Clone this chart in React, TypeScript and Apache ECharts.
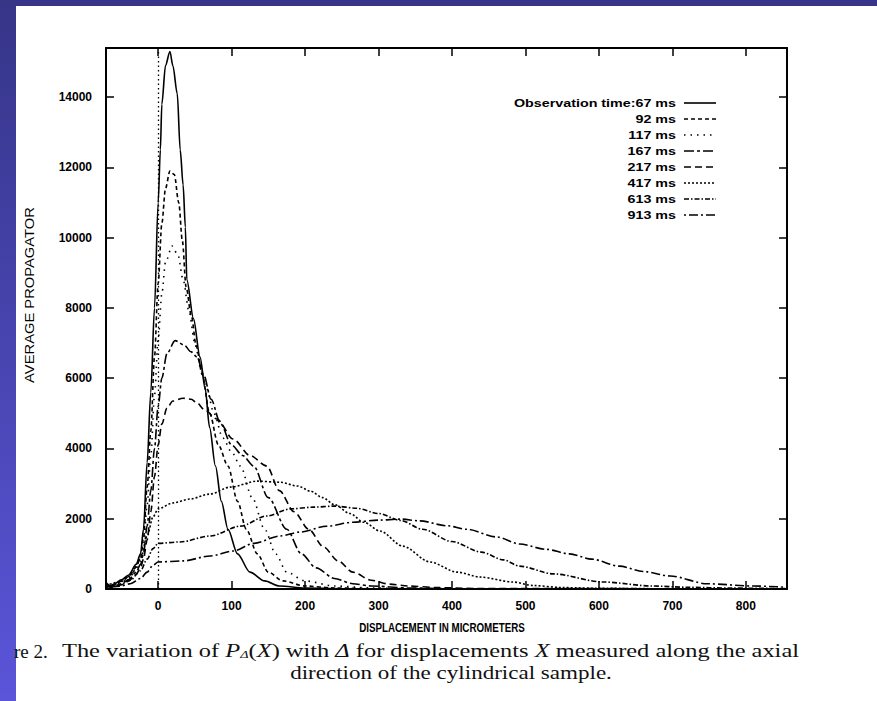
import React, { useEffect, useRef } from "react";
import * as echarts from "echarts";

// Average propagator P_Δ(X) versus displacement (micrometres), one curve per observation time.
const t67: number[][] = [
  [-71, 180], [-65, 90], [-60, 140], [-50, 260], [-40, 400], [-30, 700], [-24, 1000], [-20, 1700],
  [-15, 3600], [-10, 5600], [-5, 8000], [0, 11000], [3, 12500], [5, 13800], [10, 14900], [16, 15300],
  [20, 14900], [26, 14100], [30, 12500], [34, 11500], [37, 10300], [39, 8800], [48, 7700], [57, 6600],
  [64, 5700], [70, 4600], [78, 3500], [86, 2500], [95, 1700], [108, 1000], [125, 480], [145, 230],
  [165, 85], [200, 30], [250, 8], [300, 0], [856, 0],
];
const t92: number[][] = [
  [-71, 150], [-65, 80], [-60, 110], [-50, 220], [-40, 360], [-30, 620], [-24, 900], [-20, 1450],
  [-15, 2900], [-10, 4500], [-5, 6600], [0, 8700], [5, 10400], [10, 11400], [16, 11900], [22, 11800],
  [28, 11000], [33, 9900], [38, 8600], [45, 7800], [52, 6900], [60, 6100], [70, 5000], [82, 4100],
  [95, 3500], [108, 2500], [120, 1700], [135, 1000], [150, 480], [170, 230], [200, 85], [240, 30],
  [300, 5], [856, 0],
];
const t117: number[][] = [
  [-71, 130], [-65, 70], [-60, 90], [-50, 180], [-40, 320], [-30, 560], [-24, 800], [-20, 1250],
  [-15, 2400], [-10, 3800], [-5, 5500], [0, 7100], [5, 8400], [10, 9300], [19, 9760], [27, 9500],
  [34, 8800], [42, 7900], [50, 7000], [58, 6300], [66, 5700], [76, 5000], [88, 4300], [100, 3900],
  [112, 3500], [128, 2600], [145, 1700], [160, 1000], [175, 480], [200, 230], [240, 85], [290, 30],
  [350, 5], [856, 0],
];
const t167: number[][] = [
  [-71, 110], [-65, 60], [-60, 80], [-50, 150], [-40, 270], [-30, 480], [-24, 700], [-20, 1000],
  [-15, 1800], [-10, 2800], [-5, 4000], [0, 5200], [5, 6000], [12, 6700], [23, 7070], [35, 6950],
  [45, 6750], [53, 6600], [62, 6100], [72, 5400], [85, 4700], [100, 4100], [115, 3800], [130, 3500],
  [150, 2600], [175, 1700], [195, 1000], [215, 600], [240, 300], [265, 150], [290, 85], [340, 30],
  [400, 8], [856, 0],
];
const t217: number[][] = [
  [-71, 90], [-65, 50], [-60, 70], [-50, 120], [-40, 230], [-30, 420], [-24, 600], [-20, 850],
  [-15, 1400], [-10, 2200], [-5, 3200], [0, 4100], [5, 4700], [12, 5150], [20, 5350], [34, 5430],
  [45, 5400], [53, 5300], [62, 5120], [80, 4840], [102, 4270], [125, 3800], [148, 3500], [165, 2800],
  [185, 2200], [205, 1700], [225, 1200], [245, 800], [265, 480], [290, 250], [315, 140], [340, 85],
  [380, 40], [430, 15], [856, 0],
];
const t417: number[][] = [
  [-71, 100], [-52, 200], [-38, 370], [-24, 850], [-15, 1500], [-7, 2050], [0, 2280], [20, 2450],
  [43, 2560], [70, 2700], [98, 2900], [135, 3070], [166, 3040], [190, 2930], [207, 2790], [224, 2600],
  [240, 2400], [261, 2150], [280, 1900], [302, 1650], [333, 1220], [370, 770], [407, 480], [438, 340],
  [483, 200], [510, 100], [550, 40], [600, 20], [700, 5], [856, 0],
];
const t613: number[][] = [
  [-71, 60], [-52, 120], [-38, 250], [-24, 520], [-15, 850], [-7, 1150], [0, 1300], [30, 1340],
  [71, 1510], [112, 1790], [148, 2080], [180, 2280], [211, 2330], [240, 2360], [270, 2300], [300, 2150],
  [330, 1950], [360, 1700], [400, 1350], [440, 1050], [470, 830], [492, 650], [538, 430], [605, 200],
  [673, 85], [720, 50], [780, 25], [856, 10],
];
const t913: number[][] = [
  [-71, 40], [-52, 80], [-38, 150], [-24, 300], [-15, 480], [-7, 680], [0, 770], [34, 800],
  [71, 940], [102, 1080], [130, 1300], [166, 1510], [193, 1620], [230, 1790], [265, 1900], [300, 1960],
  [330, 1990], [356, 1940], [393, 1800], [420, 1700], [461, 1480], [492, 1280], [528, 1130], [560, 1000],
  [590, 850], [628, 650], [660, 500], [697, 370], [747, 150], [810, 85], [856, 50],
];

const curves = [t67, t92, t117, t167, t217, t417, t613, t913];
const seriesNames = [
  "Observation time:67 ms", "92 ms", "117 ms", "167 ms", "217 ms", "417 ms", "613 ms", "913 ms",
];
const dashPatterns: (number[] | "solid")[] = [
  "solid", [4, 3], [1.5, 5], [10, 3, 3, 3], [7, 4], [2, 2], [5, 2, 1.5, 2], [2, 3, 9, 3],
];

const xTitle = "DISPLACEMENT IN MICROMETERS";
const yTitle = "AVERAGE PROPAGATOR";
const captionLead = "re 2.";
const captionLine1 = "The variation of {i|P}{s|Δ}({i|X}) with {i|Δ} for displacements {i|X} measured along the axial";
const captionLine1Plain = "The variation of PΔ(X) with Δ for displacements X measured along the axial";
const captionLine2 = "direction of the cylindrical sample.";

const SANS = "'Liberation Sans', Arial, sans-serif";
const SERIF = "'Liberation Serif', 'Times New Roman', serif";

function textWidth(text: string, font: string): number {
  const ctx = document.createElement("canvas").getContext("2d");
  if (!ctx) return text.length * 7;
  ctx.font = font;
  return ctx.measureText(text).width;
}

export default function App() {
  const ref = useRef<HTMLDivElement>(null);

  useEffect(() => {
    if (!ref.current) return;
    const chart = echarts.init(ref.current, undefined, { renderer: "svg" });

    const legendFont = `bold 11px ${SANS}`;
    const legendScale = 162 / textWidth(seriesNames[0], legendFont);
    const capFont = `19px ${SERIF}`;
    const cap1Scale = 750 / textWidth(captionLine1Plain, capFont);
    const cap2Scale = 322 / textWidth(captionLine2, capFont);
    const xTitleFont = `bold 12px ${SANS}`;
    const xTitleScale = 166 / textWidth(xTitle, xTitleFont);
    const yTitleFont = `13px ${SANS}`;
    const yTitleScale = 176 / textWidth(yTitle, yTitleFont);

    const legendGraphics: any[] = [];
    seriesNames.forEach((name, i) => {
      const y = 103 + i * 16;
      legendGraphics.push({
        type: "text",
        x: 676,
        y,
        scaleX: legendScale,
        style: {
          text: name,
          font: legendFont,
          fill: "#000",
          textAlign: "right",
          textVerticalAlign: "middle",
        },
      });
      const dash = dashPatterns[i];
      legendGraphics.push({
        type: "line",
        shape: { x1: 684, y1: y, x2: 716, y2: y },
        style: {
          stroke: "#000",
          lineWidth: 1.6,
          lineDash: dash === "solid" ? null : dash,
        },
      });
    });

    const axisLabelBase = {
      color: "#000",
      fontFamily: SANS,
      fontWeight: "bold" as const,
      formatter: (v: number) => String(v),
    };

    const option: any = {
      animation: false,
      backgroundColor: "#ffffff",
      grid: { left: 106, top: 48, right: 90, bottom: 112, containLabel: false },
      xAxis: [
        {
          type: "value",
          position: "bottom",
          min: -71,
          max: 856,
          splitNumber: 9,
          axisLine: { onZero: false, lineStyle: { color: "#000", width: 2 } },
          axisTick: { inside: true, length: 8, lineStyle: { color: "#000", width: 1.5 } },
          axisLabel: { ...axisLabelBase, fontSize: 12, margin: 11, showMinLabel: false, showMaxLabel: false },
          splitLine: { show: false },
        },
        {
          type: "value",
          position: "top",
          min: -71,
          max: 856,
          splitNumber: 9,
          axisLine: { onZero: false, lineStyle: { color: "#000", width: 2 } },
          axisTick: { inside: true, length: 8, lineStyle: { color: "#000", width: 1.5 } },
          axisLabel: { show: false },
          splitLine: { show: false },
        },
      ],
      yAxis: [
        {
          type: "value",
          position: "left",
          min: 0,
          max: 15400,
          interval: 2000,
          axisLine: { onZero: false, lineStyle: { color: "#000", width: 2 } },
          axisTick: { inside: true, length: 8, lineStyle: { color: "#000", width: 1.5 } },
          axisLabel: { ...axisLabelBase, fontSize: 12, margin: 14, showMaxLabel: false },
          splitLine: { show: false },
        },
        {
          type: "value",
          position: "right",
          min: 0,
          max: 15400,
          interval: 2000,
          axisLine: { onZero: false, lineStyle: { color: "#000", width: 2 } },
          axisTick: { inside: true, length: 8, lineStyle: { color: "#000", width: 1.5 } },
          axisLabel: { show: false },
          splitLine: { show: false },
        },
      ],
      series: curves.map((data, i) => ({
        name: seriesNames[i],
        type: "line",
        data,
        xAxisIndex: 0,
        yAxisIndex: 0,
        showSymbol: false,
        symbol: "none",
        smooth: 0.3,
        smoothMonotone: "x",
        clip: true,
        lineStyle: { color: "#000", width: 1.6, type: dashPatterns[i] },
        markLine:
          i === 0
            ? {
                silent: true,
                symbol: "none",
                label: { show: false },
                lineStyle: { color: "#000", width: 1.3, type: [1.5, 3] },
                data: [{ xAxis: 0 }],
              }
            : undefined,
      })),
      graphic: [
        // slide backdrop around the scanned figure
        {
          type: "rect",
          shape: { x: 0, y: 0, width: 16, height: 701 },
          style: {
            fill: new echarts.graphic.LinearGradient(0, 0, 0, 1, [
              { offset: 0, color: "#363588" },
              { offset: 1, color: "#5a55d9" },
            ]),
          },
        },
        {
          type: "rect",
          shape: { x: 0, y: 0, width: 877, height: 6 },
          style: { fill: "#363588" },
        },
        {
          type: "text",
          x: 29,
          y: 295,
          rotation: Math.PI / 2,
          scaleX: yTitleScale,
          style: {
            text: yTitle,
            font: yTitleFont,
            fill: "#000",
            textAlign: "center",
            textVerticalAlign: "middle",
          },
        },
        {
          type: "text",
          x: 442,
          y: 628,
          scaleX: xTitleScale,
          style: {
            text: xTitle,
            font: xTitleFont,
            fill: "#000",
            textAlign: "center",
            textVerticalAlign: "middle",
          },
        },
        ...legendGraphics,
        {
          type: "text",
          x: 14,
          y: 651,
          style: {
            text: captionLead,
            font: `19px ${SERIF}`,
            fill: "#111",
            textAlign: "left",
            textVerticalAlign: "middle",
          },
        },
        {
          type: "text",
          x: 62,
          y: 651,
          scaleX: cap1Scale,
          style: {
            text: captionLine1,
            font: capFont,
            fill: "#111",
            textAlign: "left",
            textVerticalAlign: "middle",
            rich: {
              i: { fontStyle: "italic", fontFamily: SERIF, fontSize: 19 },
              s: { fontStyle: "italic", fontFamily: SERIF, fontSize: 11, verticalAlign: "bottom", lineHeight: 14 },
            },
          },
        },
        {
          type: "text",
          x: 451,
          y: 673,
          scaleX: cap2Scale,
          style: {
            text: captionLine2,
            font: capFont,
            fill: "#111",
            textAlign: "center",
            textVerticalAlign: "middle",
          },
        },
      ],
    };

    chart.setOption(option);
    return () => chart.dispose();
  }, []);

  return (
    <div
      ref={ref}
      style={{ position: "fixed", left: 0, top: 0, width: 877, height: 701, background: "#fff" }}
    />
  );
}
